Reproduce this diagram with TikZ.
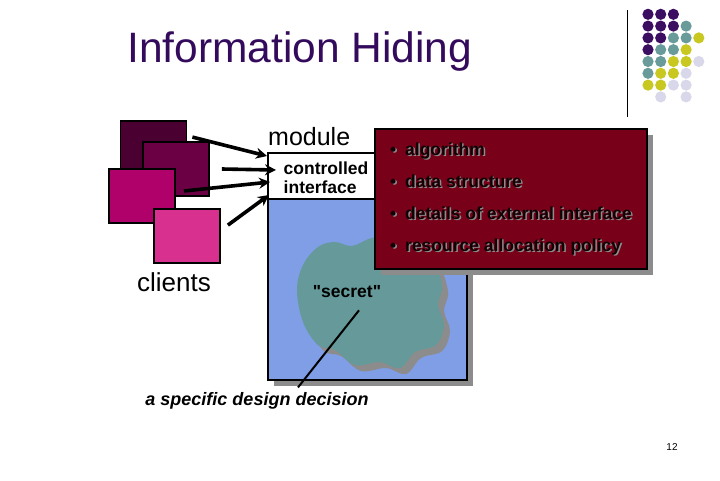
\documentclass[tikz,border=0pt]{standalone}
\usepackage{fontspec}
\setmainfont{Liberation Sans}[Ligatures=TeXOff]
\usetikzlibrary{arrows.meta,calc}

\definecolor{titlepurple}{HTML}{330A5C}
\definecolor{sqone}{HTML}{4A0030}
\definecolor{sqtwo}{HTML}{6C0044}
\definecolor{sqthree}{HTML}{B0006A}
\definecolor{sqfour}{HTML}{D8308E}
\definecolor{modblue}{HTML}{7F9EE6}
\definecolor{secretteal}{HTML}{66999A}
\definecolor{hiddenred}{HTML}{780018}
\definecolor{shadowgray}{HTML}{8C8C8C}
\definecolor{dotP}{HTML}{3B0E62}
\definecolor{dotT}{HTML}{6A9B9B}
\definecolor{dotY}{HTML}{C8C820}
\definecolor{dotL}{HTML}{D8D8EA}
\definecolor{dotN}{HTML}{FFFFFF}

\begin{document}
\begin{tikzpicture}[x=1pt, y=-1pt,
  client/.style={draw=black, line width=1.8pt, minimum width=66pt,
                 minimum height=54pt, inner sep=0pt},
  box/.style={draw=black, line width=2pt, inner sep=0pt},
  callarrow/.style={-{Stealth[length=11pt, width=11pt]}, line width=3.6pt},
  label/.style={font=\fontsize{26}{26}\selectfont, inner sep=0pt},
  small/.style={font=\bfseries\fontsize{17.5}{19}\selectfont, inner sep=0pt},
  item/.style={font=\bfseries\fontsize{17.5}{19}\selectfont, inner sep=0pt,
               anchor=base west}
]
  \useasboundingbox (0,0) rectangle (720,480);

  % title and logo
  \node[font=\fontsize{42.5}{42.5}\selectfont, text=titlepurple, inner sep=0pt,
        anchor=base west] (title) at (127,62) {Information Hiding};
  \draw[line width=1pt] (627,10) -- (627,117);
  \foreach \r/\cols in {1/{P,P,P}, 2/{P,P,P,T}, 3/{P,P,T,T,Y}, 4/{P,T,T,Y},
                        5/{T,T,Y,Y,L}, 6/{T,Y,Y,L}, 7/{Y,Y,L,L}, 8/{N,L,N,L}}
    \foreach \c [count=\k] in \cols
      \fill[dot\c] (635.3+12.7*\k, 2.5+11.8*\r) circle (5.6pt);

  % clients
  \node[client, fill=sqone]   (c1) at (153.5,148) {};
  \node[client, fill=sqtwo]   (c2) at (176,169) {};
  \node[client, fill=sqthree] (c3) at (142,196) {};
  \node[client, fill=sqfour]  (c4) at (187,236) {};
  \node[label] (clients) at (174,282) {clients};

  % module
  \fill[shadowgray] (274,159) rectangle (473,386);
  \node[box, fill=modblue, minimum width=199pt, minimum height=227pt]
    (module) at (367.5,266.5) {};
  \node[box, fill=white, minimum width=199pt, minimum height=46pt]
    (iface) at (367.5,176) {};
  \node[label, font=\fontsize{25}{25}\selectfont, anchor=base west]
    (modname) at (268,145) {module};
  \node[small, align=left] (ifacetext) at (326,178) {controlled\\interface};

  % the secret
  \foreach \d/\col in {6/shadowgray, 0/secretteal}
    \fill[\col, shift={(\d,\d)}] plot[smooth cycle, tension=0.6] coordinates {
      (297,290) (303,265) (318,247) (335,242) (352,246) (372,238) (400,236)
      (430,255) (442,285) (438,305) (444,325) (436,345) (415,352) (400,368)
      (380,362) (355,365) (335,350) (318,345) (303,322)};
  \node[small] (secret) at (347,292) {"secret"};

  % hidden details
  \fill[shadowgray] (381,135) rectangle (653,275);
  \node[box, fill=hiddenred, minimum width=272pt, minimum height=140pt]
    (details) at (511,199) {};
  \foreach \t [count=\i] in {algorithm, data structure,
      details of external interface, resource allocation policy} {
    \node[item, text=shadowgray] at (391.5,156.5+32*\i-32) {\textbullet};
    \node[item, text=shadowgray] at (406.5,156.5+32*\i-32) {\t};
    \node[item, text=black!85!hiddenred] at (390,155+32*\i-32) {\textbullet};
    \node[item, text=black!85!hiddenred] (b\i) at (405,155+32*\i-32) {\t};
  }

  \node[small, font=\bfseries\itshape\fontsize{18}{20}\selectfont]
    (decision) at (257,401) {a specific design decision};
  \draw[line width=2pt] ($(secret.south)+(12,12)$) -- ($(decision.north)+(41,-5)$);

  % calls through the interface
  \coordinate (s1) at ($(c1.north east)+(5,17)$);
  \coordinate (s2) at ($(c2.east)+(12,0)$);
  \coordinate (s3) at ($(c3.east)+(8,-5)$);
  \coordinate (s4) at ($(c4.north east)+(7,17)$);
  \draw[callarrow] (s1) -- ($(iface.north west)+(0,4)$);
  \draw[callarrow] (s2) -- ($(iface.west)+(9,-6)$);
  \draw[callarrow] (s3) -- ($(iface.west)+(3,6)$);
  \draw[callarrow] (s4) -- ($(iface.south west)+(2,-5)$);

  \node[font=\fontsize{10}{10}\selectfont, inner sep=0pt] (page) at (672,447) {12};
\end{tikzpicture}
\end{document}
